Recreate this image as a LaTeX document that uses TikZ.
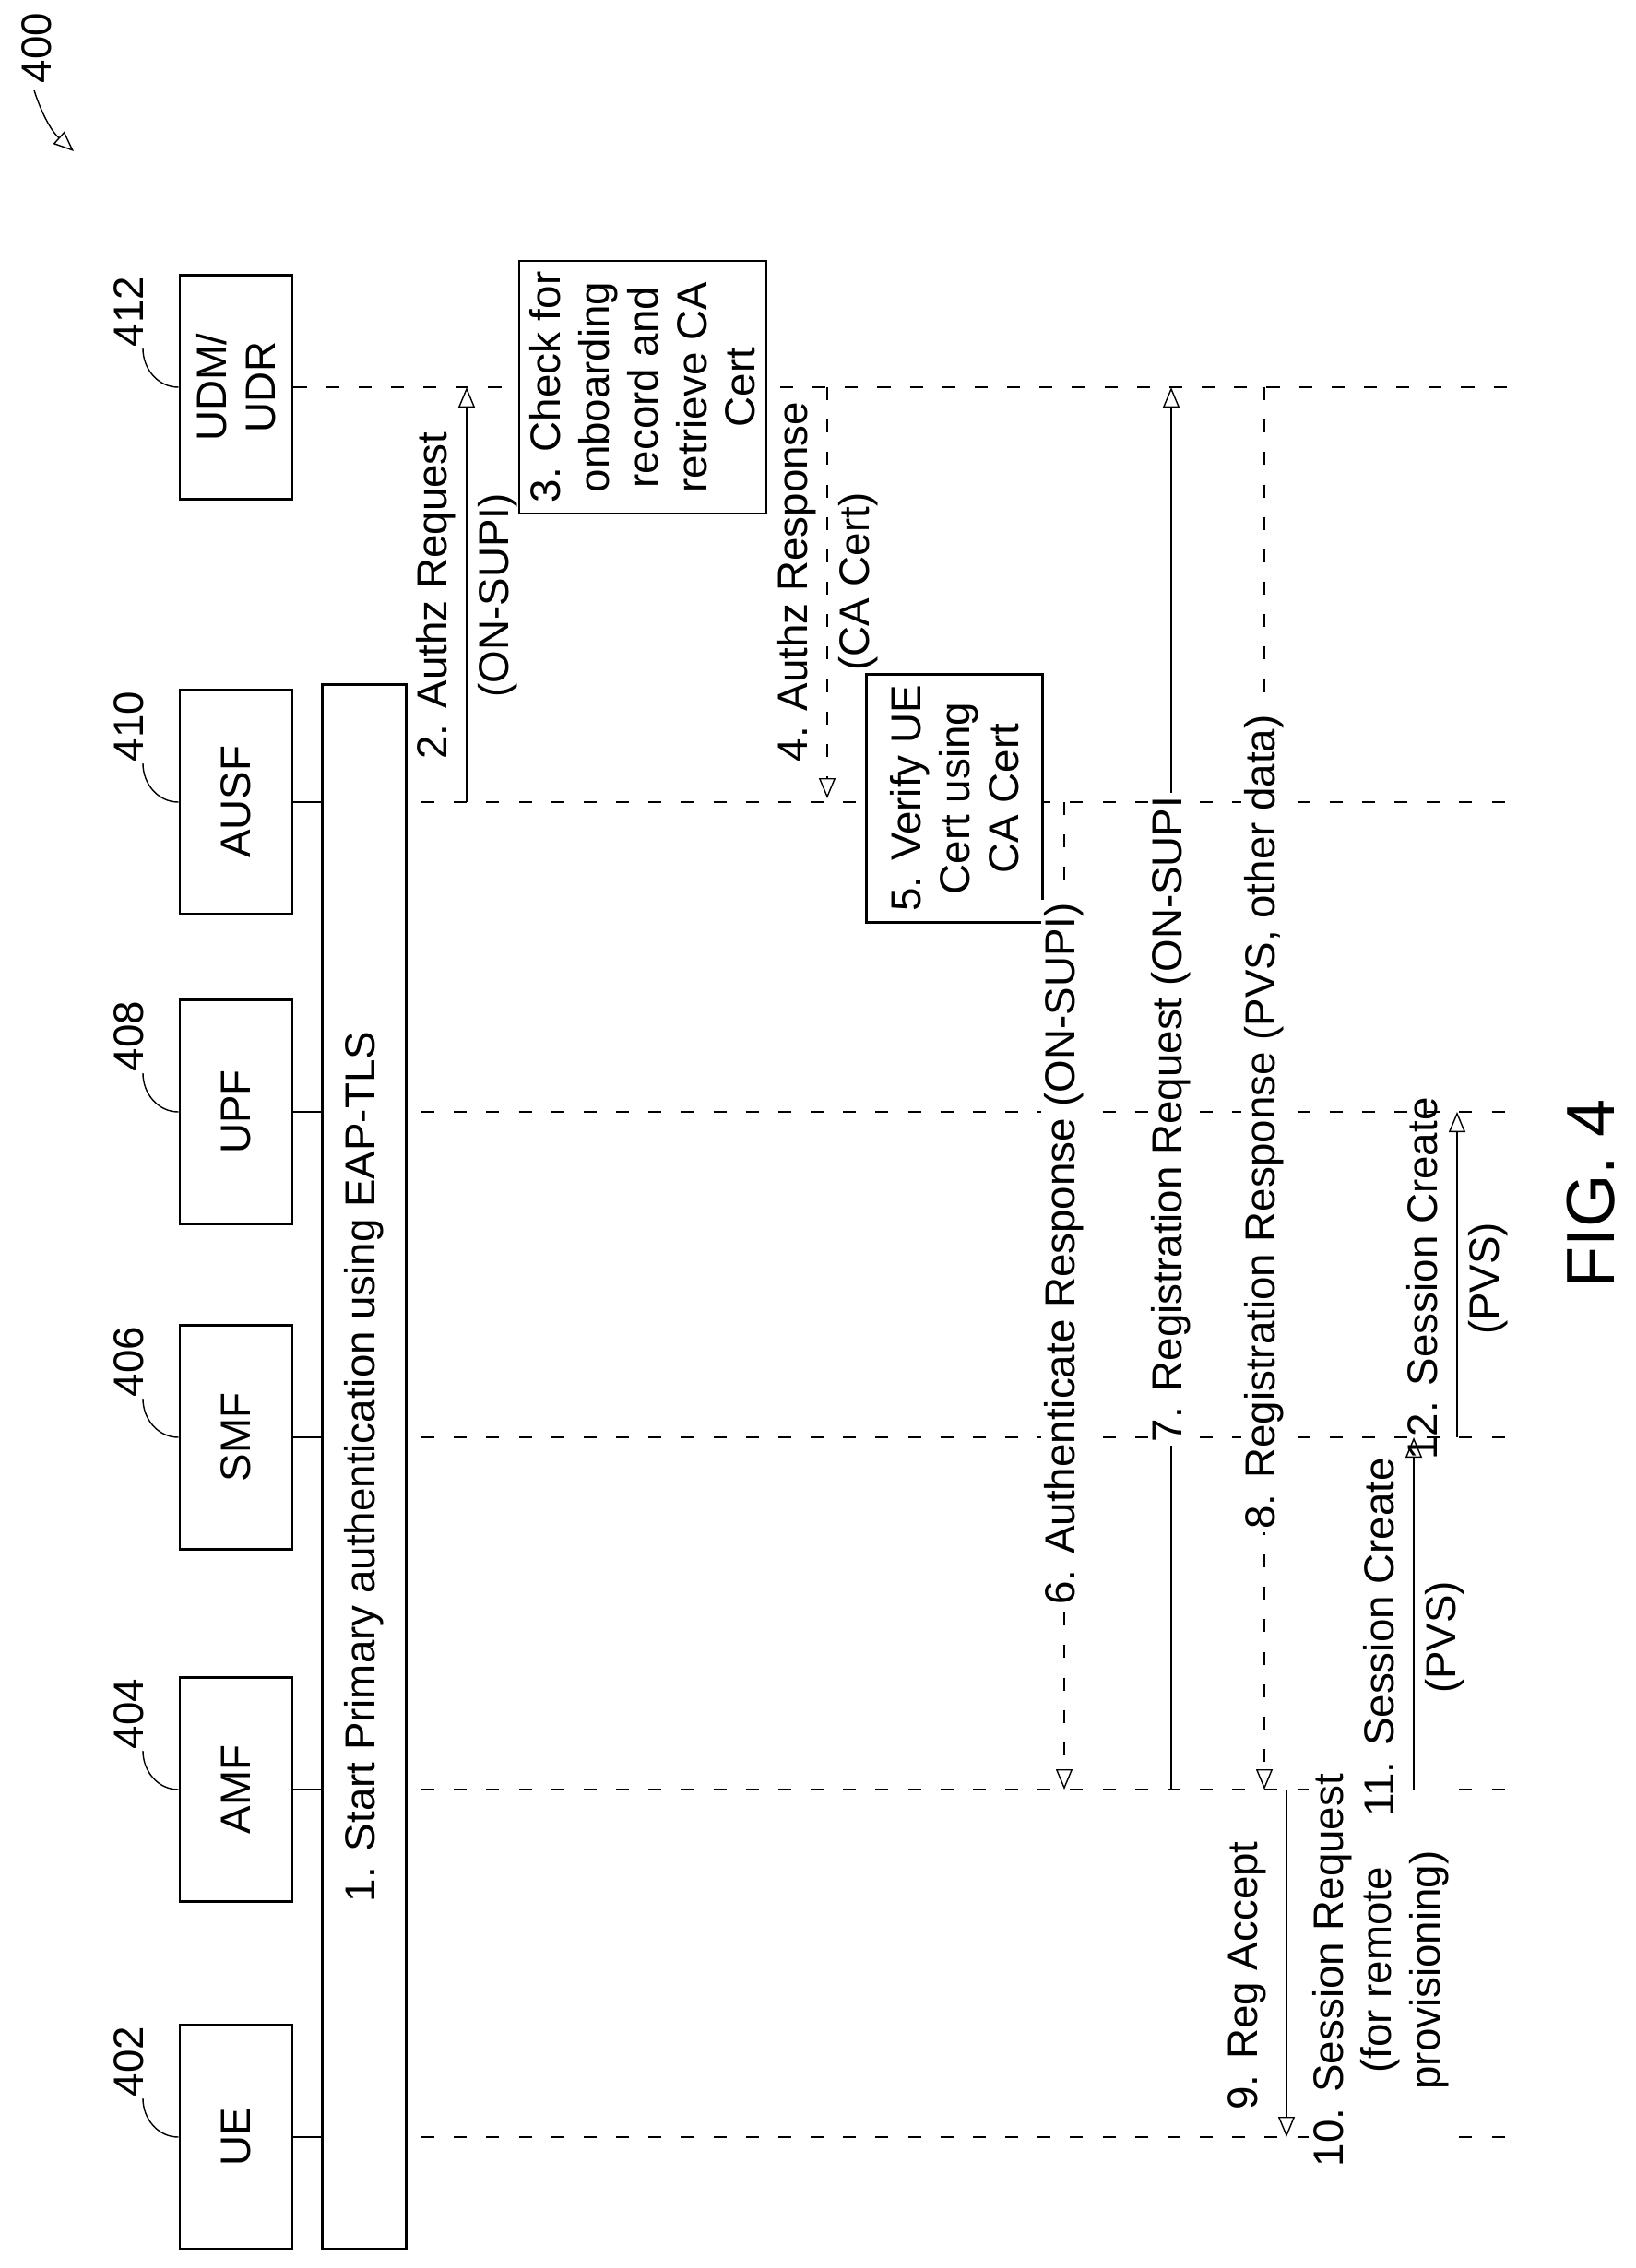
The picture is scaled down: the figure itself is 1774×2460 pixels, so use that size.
\documentclass[tikz,border=0pt]{standalone}
\usepackage{fontspec}
\setmainfont{Liberation Sans}
\usetikzlibrary{positioning}
\usetikzlibrary{arrows.meta}
\usetikzlibrary{calc}

\tikzset{
    entity/.style={draw, thick, fill=white, rotate=90, minimum width=2.43cm, minimum height=1.22cm, font=\fontsize{13}{15}\selectfont},
    action/.style={draw, thick, fill=white, rotate=90, align=center, font=\fontsize{13}{15}\selectfont},
    msg/.style={rotate=90, align=center, font=\fontsize{13}{19}\selectfont},
    cutmsg/.style={rotate=90, align=center, fill=white, inner sep=1pt, font=\fontsize{13}{15}\selectfont},
    refnum/.style={rotate=90, font=\fontsize{13}{15}\selectfont},
    life/.style={dash pattern=on 4pt off 6pt, thin},
    tip/.style={-{Triangle[open,length=2.2mm,width=1.8mm]}},
}

\begin{document}
\begin{tikzpicture}[x=0.01cm, y=-0.01cm]
        \useasboundingbox (0,0) rectangle (1774,2460);
        % figure number
        \node[refnum] (fig) at (40,52) {400};
        \draw[tip] (37,98) to[bend right=15] (80,164);
        \node[rotate=90, font=\fontsize{21}{24}\selectfont] (figlabel) at (1725,1295) {FIG. 4};

        % entities
        \foreach \name/\txt/\num/\y in {ue/UE/402/2318, amf/AMF/404/1941, smf/SMF/406/1559, upf/UPF/408/1206, ausf/AUSF/410/870, udm/{UDM/\\UDR}/412/420} {
            \node[entity, align=center] (\name) at (256,\y) {\txt};
            \node[refnum] (\name ref) at (140,\y-82) {\num};
            \draw (155,\y-42) to[out=-90, in=180] (\name.north);
        }

        % step 1
        \node[entity, minimum width=16.96cm, minimum height=0.91cm] (start) at (395,1591) {1. Start Primary authentication using EAP-TLS};

        % lifelines
        \foreach \name/\y in {ue/2318, amf/1941, smf/1559, upf/1206, ausf/870} {
            \draw (\name.south) -- (\name.south -| start.north);
            \draw[life] (457,\y) -- (1634,\y);
        }
        \draw[life] (udm.south) -- (1634,420);

        % boxes on lifelines
        \node[action, minimum width=2.43cm, minimum height=2.68cm] (check) at (697,420) {3. Check for\\onboarding\\record and\\retrieve CA\\Cert};
        \node[action, minimum width=2.42cm, minimum height=1.91cm] (verify) at (1035,866) {5. Verify UE\\Cert using\\CA Cert};

        % messages
        \draw[tip] (506,870) -- (506,420);
        \node[msg] (m2) at (506,646) {2. Authz Request\\(ON-SUPI)};
        \draw[tip, life] (897,420) -- (897,866);
        \node[msg] (m4) at (897,631) {4. Authz Response\\(CA Cert)};
        \draw[tip, life] (1154,870) -- (1154,1941);
        \node[cutmsg] (m6) at (1154,1360) {6. Authenticate Response (ON-SUPI)};
        \draw[tip] (1270,1941) -- (1270,420);
        \node[cutmsg] (m7) at (1270,1214) {7. Registration Request (ON-SUPI};
        \draw[tip, life] (1371,420) -- (1371,1941);
        \node[cutmsg] (m8) at (1371,1217) {8. Registration Response (PVS, other data)};
        \draw[tip] (1395,1941) -- (1395,2318);
        \node[msg, anchor=south] (m9) at (1385,2143) {9. Reg Accept};
        \draw[tip] (1497,2318) -- (1497,1941);
        \node[cutmsg] (m10) at (1497,2137) {10. Session Request\\(for remote\\provisioning)};
        \draw[tip] (1533,1941) -- (1533,1559);
        \node[msg] (m11) at (1533,1776) {11. Session Create\\(PVS)};
        \draw[tip] (1580,1559) -- (1580,1206);
        \node[msg] (m12) at (1580,1387) {12. Session Create\\(PVS)};
    \end{tikzpicture}
\end{document}
